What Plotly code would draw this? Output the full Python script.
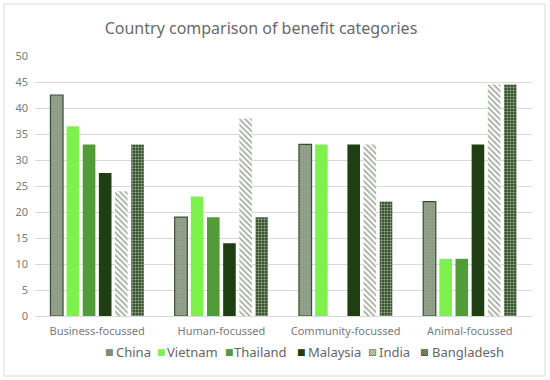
import plotly.graph_objects as go

categories = ["Business-focussed", "Human-focussed", "Community-focussed", "Animal-focussed"]
countries = ["China", "Vietnam", "Thailand", "Malaysia", "India", "Bangladesh"]
china = [42.5, 19, 33, 22]
vietnam = [36.5, 23, 33, 11]
thailand = [33, 19, 0, 11]
malaysia = [27.5, 14, 33, 33]
india = [24, 38, 33, 44.5]
bangladesh = [33, 19, 22, 44.5]
series = [china, vietnam, thailand, malaysia, india, bangladesh]

# styles
styles = [
    dict(color="#95a28d", line=dict(color="#34502a", width=1.2),
         pattern=dict(shape=".", fgcolor="#7a8a72", size=3, solidity=0.3)),
    dict(color="#7ef24c", line=dict(width=0)),
    dict(color="#529c38", line=dict(width=0)),
    dict(color="#1f3f12", line=dict(width=0)),
    dict(color="white", line=dict(width=0),
         pattern=dict(shape="\\", fgcolor="#3d5233", bgcolor="white", size=4, solidity=0.4)),
    dict(color="#1f3f12", line=dict(width=0),
         pattern=dict(shape=".", fgcolor="white", bgcolor="#1f3f12", size=3, solidity=0.5)),
]
legend_symbols = ["■", "■", "■", "■", "▧", "▩"]
legend_symbol_colors = ["#7d8c75", "#7ef24c", "#529c38", "#1f3f12", "#55684c", "#1f3f12"]

# layout constants (pixels)
W, H = 550, 380
ML, MR, MT, MB = 35, 18, 56, 64
PW, PH = W - ML - MR, H - MT - MB
sym_cx = [109, 161, 229.5, 301.5, 372, 424]
txt_x = [115, 166, 233, 307, 378, 431]
leg_y = 352


def px_x(p):
    return (p - ML) / PW


def px_y(p):
    return (H - MB - p) / PH


fig = go.Figure()
for name, vals, st in zip(countries, series, styles):
    fig.add_trace(go.Bar(x=categories, y=vals, name=name, marker=st, showlegend=False))

annotations = []
for name, sym, col, sx, tx in zip(countries, legend_symbols, legend_symbol_colors, sym_cx, txt_x):
    annotations.append(dict(xref="paper", yref="paper", x=px_x(sx), y=px_y(leg_y),
                            xanchor="center", yanchor="middle", showarrow=False,
                            text=sym, font=dict(family="DejaVu Sans", size=9, color=col),
                            borderpad=0))
    annotations.append(dict(xref="paper", yref="paper", x=px_x(tx), y=px_y(leg_y),
                            xanchor="left", yanchor="middle", showarrow=False,
                            text=name, font=dict(family="Noto Sans", size=13, color="#666666"),
                            borderpad=0))

fig.update_layout(
    width=W, height=H,
    margin=dict(l=ML, r=MR, t=MT, b=MB),
    paper_bgcolor="white", plot_bgcolor="white",
    barmode="group", bargap=0.22, bargroupgap=0.22,
    title=dict(text="Country comparison of benefit categories", x=261 / W, xanchor="center",
               y=1 - 28 / H, yanchor="middle",
               font=dict(family="Noto Sans", size=16, color="#6a6a6a")),
    font=dict(family="Noto Sans", color="#757575"),
    showlegend=False,
    yaxis=dict(range=[0, 50], dtick=5, showgrid=True, gridcolor="#d9d9d9", gridwidth=1,
               zeroline=False, tickfont=dict(size=11, color="#7a7a7a"), ticks="",
               automargin=False, ticklabelstandoff=6),
    xaxis=dict(showline=True, linecolor="#d9d9d9", tickfont=dict(size=11, color="#7a7a7a"),
               ticks="", automargin=False, ticklabelstandoff=5),
    annotations=annotations,
    shapes=[dict(type="rect", xref="paper", yref="paper",
                 x0=px_x(4), x1=px_x(545), y0=px_y(376), y1=px_y(4),
                 line=dict(color="#d9d9d9", width=1), fillcolor="rgba(0,0,0,0)")],
)

fig.write_html("out.html",
               config={"displayModeBar": False},
               post_script="document.body.style.margin='0';document.body.style.overflow='hidden';")
